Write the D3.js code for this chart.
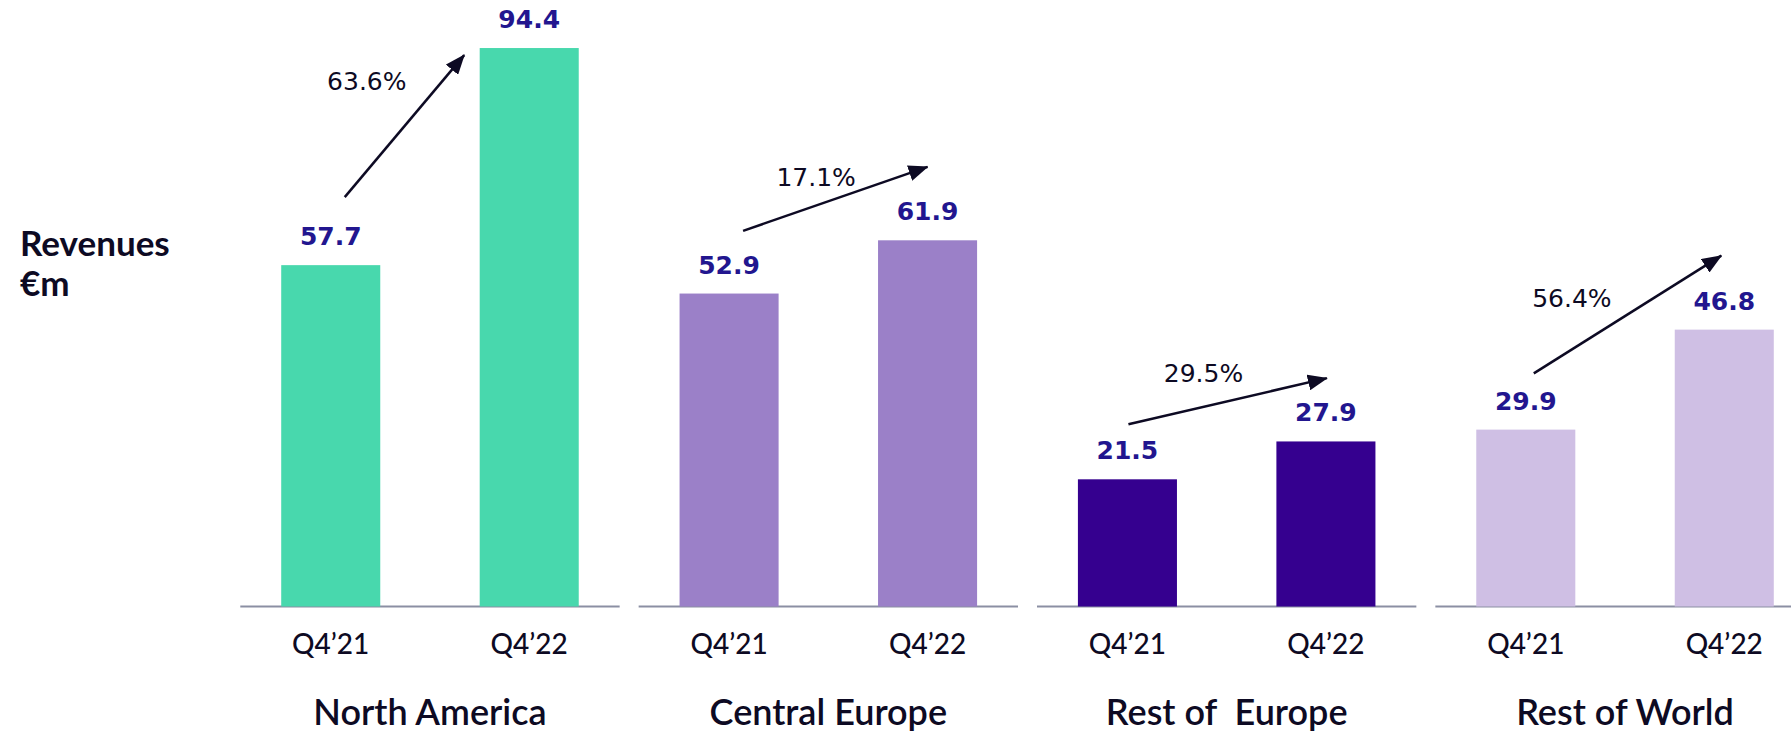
<!DOCTYPE html>
<html>
<head>
<meta charset="utf-8">
<script src="https://cdn.jsdelivr.net/npm/d3@7"></script>
<style>
  html, body { margin: 0; padding: 0; background: #ffffff; }
  svg { display: block; }
</style>
</head>
<body>
<svg id="chart" width="1791" height="732"></svg>
<script>
// ---------- data ----------
const regions = ["North America", "Central Europe", "Rest of  Europe", "Rest of World"];
const periods = ["Q4\u201921", "Q4\u201922"];
const q4_21 = [57.7, 52.9, 21.5, 29.9];
const q4_22 = [94.4, 61.9, 27.9, 46.8];
const growthLabels = ["63.6%", "17.1%", "29.5%", "56.4%"];
const yAxisTitle = ["Revenues", "\u20acm"];

// ---------- style / layout ----------
const colors = ["#48d8ad", "#9b80c8", "#35008f", "#cfbfe4"];
const valueColor = "#22168f";
const textColor = "#0d0a23";
const axisColor = "#8b8fa3";

// annotation layout (arrow ends in value units, offsets in px from bar centres)
const arrowLayout = [
  { fromDx: 14, fromV: 69.2, toDx: -65, toV: 93.2, labelX: 136, labelV: 87.3 },
  { fromDx: 14, fromV: 63.5, toDx: 0, toV: 74.3, labelX: 187, labelV: 71.1 },
  { fromDx: 1, fromV: 30.8, toDx: 1, toV: 38.6, labelX: 176, labelV: 38.0 },
  { fromDx: 8, fromV: 39.4, toDx: -3, toV: 59.3, labelX: 146, labelV: 50.6 }
];

const svg = d3.select("#chart");
const baseY = 606.5;

const x0 = d3.scaleBand().domain(regions).range([230.8, 1824.2]).paddingInner(0).paddingOuter(0);
const x1 = d3.scaleBand().domain(periods).range([0, x0.bandwidth()]).paddingInner(0.501).paddingOuter(0.254);
const y = d3.scaleLinear().domain([0, 100]).range([baseY, baseY - 591.6]);

const rows = regions.map((r, i) => ({ region: r, i, vals: [q4_21[i], q4_22[i]] }));

// defs: arrow marker
svg.append("defs").append("marker")
  .attr("id", "ah").attr("markerUnits", "userSpaceOnUse")
  .attr("viewBox", "0 0 20 16").attr("refX", 19).attr("refY", 8)
  .attr("markerWidth", 20).attr("markerHeight", 16).attr("orient", "auto")
  .append("path").attr("d", "M0,0 L20,8 L0,16 Z").attr("fill", textColor);

const g = svg.selectAll("g.grp").data(rows).join("g")
  .attr("class", "grp")
  .attr("transform", d => `translate(${x0(d.region)},0)`);

// axis baseline segments
g.append("line")
  .attr("x1", 9.5).attr("x2", x0.bandwidth() - 9.5)
  .attr("y1", baseY).attr("y2", baseY)
  .attr("stroke", axisColor).attr("stroke-width", 2);

// bars
g.selectAll("rect").data(d => d.vals.map((v, k) => ({ v, p: periods[k], i: d.i }))).join("rect")
  .attr("x", d => x1(d.p)).attr("width", x1.bandwidth())
  .attr("y", d => y(d.v)).attr("height", d => baseY - y(d.v))
  .attr("fill", d => colors[d.i]);

// value labels
g.selectAll("text.val").data(d => d.vals.map((v, k) => ({ v, p: periods[k] }))).join("text")
  .attr("class", "val")
  .attr("x", d => x1(d.p) + x1.bandwidth() / 2)
  .attr("y", d => y(d.v) - 20)
  .attr("text-anchor", "middle")
  .attr("font-family", "DejaVu Sans, sans-serif").attr("font-weight", "bold")
  .attr("font-size", 25).attr("fill", valueColor)
  .text(d => d.v.toFixed(1));

// period labels
g.selectAll("text.per").data(periods).join("text")
  .attr("class", "per")
  .attr("x", p => x1(p) + x1.bandwidth() / 2)
  .attr("y", 654)
  .attr("text-anchor", "middle")
  .attr("font-family", "Lato, sans-serif").attr("font-weight", 500)
  .attr("font-size", 28).attr("fill", textColor)
  .text(p => p);

// region labels
g.append("text")
  .attr("x", x0.bandwidth() / 2).attr("y", 725)
  .attr("text-anchor", "middle")
  .attr("font-family", "Lato, sans-serif").attr("font-weight", 600)
  .attr("font-size", 36).attr("fill", textColor)
  .style("white-space", "pre")
  .text(d => d.region);

// growth arrows
const c0 = x1(periods[0]) + x1.bandwidth() / 2;
const c1 = x1(periods[1]) + x1.bandwidth() / 2;
g.append("line")
  .attr("x1", d => c0 + arrowLayout[d.i].fromDx)
  .attr("y1", d => y(arrowLayout[d.i].fromV))
  .attr("x2", d => c1 + arrowLayout[d.i].toDx)
  .attr("y2", d => y(arrowLayout[d.i].toV))
  .attr("stroke", textColor).attr("stroke-width", 2.5)
  .attr("marker-end", "url(#ah)");

g.append("text")
  .attr("x", d => arrowLayout[d.i].labelX)
  .attr("y", d => y(arrowLayout[d.i].labelV))
  .attr("text-anchor", "middle")
  .attr("font-family", "DejaVu Sans, sans-serif")
  .attr("font-size", 25).attr("fill", textColor)
  .text(d => growthLabels[d.i]);

// y axis title (two separate lines)
svg.selectAll("text.ytitle").data(yAxisTitle).join("text")
  .attr("class", "ytitle")
  .attr("x", 20).attr("y", (d, i) => 256 + i * 40)
  .attr("font-family", "Lato, sans-serif").attr("font-weight", "bold")
  .attr("font-size", 35).attr("fill", textColor)
  .text(d => d);
</script>
</body>
</html>
